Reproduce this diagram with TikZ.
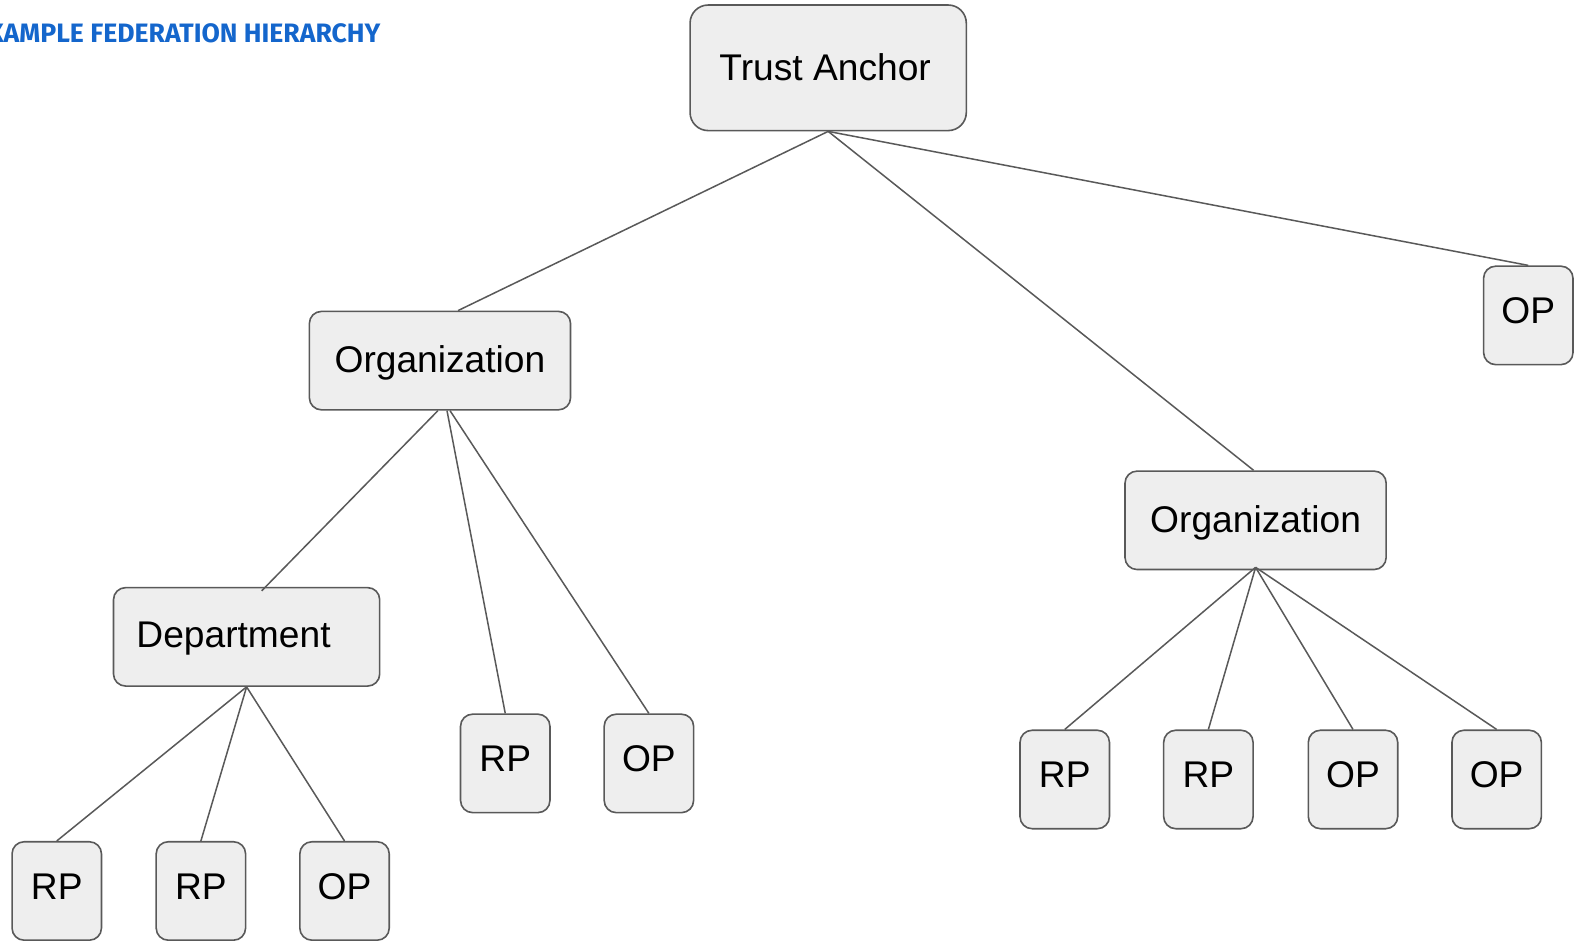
\documentclass[tikz,border=0pt]{standalone}
\usepackage{fontspec}
\setmainfont{Liberation Sans}
\newfontfamily\titlefont{Fira Sans}
\definecolor{boxfill}{HTML}{EEEEEE}
\definecolor{boxline}{HTML}{595959}
\definecolor{titleblue}{HTML}{1466CC}
\begin{document}
\begin{tikzpicture}[x=1pt,y=-1pt,
  ent/.style={draw=boxline, fill=boxfill, line width=1.6pt, rounded corners=12pt,
    inner sep=0pt, font=\fontsize{37}{44}\selectfont, text height=26.5pt},
  leaf/.style={ent, minimum width=89pt, minimum height=98pt, text depth=10pt},
  mid/.style={ent, minimum width=260pt, minimum height=98pt, text depth=2pt},
  link/.style={draw=boxline, line width=1.5pt}]
\useasboundingbox (0,0) rectangle (1568,938);
\node[font=\titlefont\bfseries\fontsize{26.5}{30}\selectfont, text=titleblue, anchor=east, inner sep=0pt] (title) at (379,33) {EXAMPLE FEDERATION HIERARCHY};
\node[ent, rounded corners=18pt, minimum width=275pt, minimum height=125pt, text depth=1pt] (ta) at (824.5,67.5) {Trust Anchor\kern6pt};
\node[mid] (org1) at (438,359) {Organization};
\node[leaf] (opt) at (1521.5,314) {OP};
\node[mid] (org2) at (1250,518) {Organization};
\node[ent, minimum width=265pt, minimum height=98pt, text depth=6pt] (dept) at (245.5,634) {Department\kern26pt};
\node[leaf] (rp1) at (503,760) {RP};
\node[leaf] (op1) at (646,760) {OP};
\node[leaf] (rpa) at (56.5,887) {RP};
\node[leaf] (rpb) at (200,887) {RP};
\node[leaf] (opa) at (343,887) {OP};
\node[leaf] (rpc) at (1060,776) {RP};
\node[leaf] (rpd) at (1203,776) {RP};
\node[leaf] (opc) at (1347,776) {OP};
\node[leaf] (opd) at (1490,776) {OP};
\draw[link] (ta.south) -- ([xshift=18pt]org1.north);
\draw[link] (ta.south) -- ([xshift=-2pt]org2.north);
\draw[link] (ta.south) -- (opt.north);
\draw[link] ([xshift=-2pt]org1.south) -- ([xshift=15pt,yshift=-4pt]dept.north);
\draw[link] ([xshift=7pt]org1.south) -- (rp1.north);
\draw[link] ([xshift=10pt]org1.south) -- (op1.north);
\draw[link] (dept.south) -- (rpa.north);
\draw[link] (dept.south) -- (rpb.north);
\draw[link] (dept.south) -- (opa.north);
\draw[link] ([yshift=3pt]org2.south) -- (rpc.north);
\draw[link] ([yshift=3pt]org2.south) -- (rpd.north);
\draw[link] ([yshift=3pt]org2.south) -- (opc.north);
\draw[link] ([yshift=3pt]org2.south) -- (opd.north);
\end{tikzpicture}
\end{document}
